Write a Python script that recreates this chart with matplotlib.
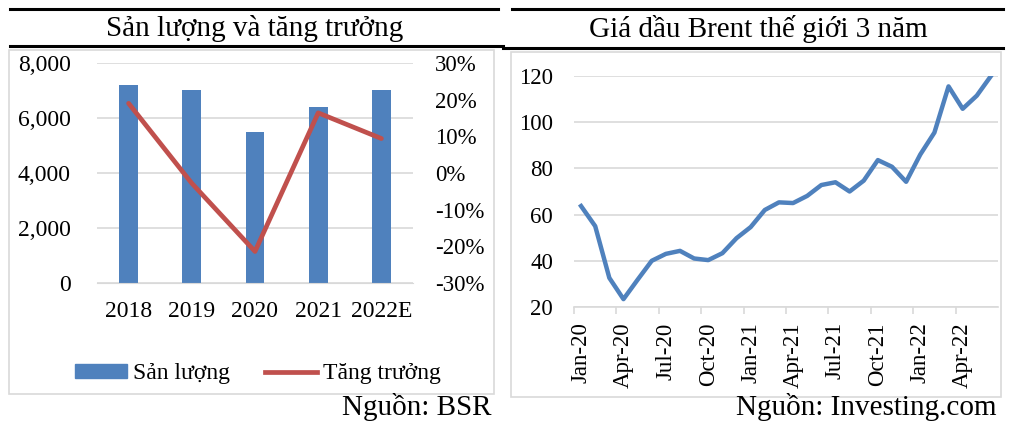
import matplotlib
matplotlib.use("Agg")
from matplotlib import pyplot as plt
from matplotlib.ticker import FuncFormatter, FixedLocator
from matplotlib.lines import Line2D
from matplotlib.patches import Patch, Rectangle

plt.rcParams['font.family'] = ['Liberation Serif', 'DejaVu Serif']

# ---- data ----
years = ["2018", "2019", "2020", "2021", "2022E"]
san_luong = [7200, 7000, 5500, 6400, 7000]
tang_truong = [19.0, -2.8, -21.4, 16.4, 9.4]

months = ["Jan-20", "Feb-20", "Mar-20", "Apr-20", "May-20", "Jun-20",
          "Jul-20", "Aug-20", "Sep-20", "Oct-20", "Nov-20", "Dec-20",
          "Jan-21", "Feb-21", "Mar-21", "Apr-21", "May-21", "Jun-21",
          "Jul-21", "Aug-21", "Sep-21", "Oct-21", "Nov-21", "Dec-21",
          "Jan-22", "Feb-22", "Mar-22", "Apr-22", "May-22", "Jun-22"]
brent = [63.7, 55.0, 32.6, 23.4, 31.8, 40.0, 43.0, 44.3, 41.0, 40.3,
         43.3, 49.8, 54.6, 62.0, 65.3, 65.0, 68.1, 72.8, 74.0, 70.0,
         74.7, 83.6, 80.7, 74.2, 86.0, 95.5, 115.5, 105.8, 111.5, 120.0]

W, H = 1018, 422
fig = plt.figure(figsize=(W / 100, H / 100), dpi=100)
grid_c = "#d9d9d9"
blue = "#4f81bd"
red = "#c0504d"


def px_axes(x0, y0, x1, y1, **kw):
    # pixel box (top-left origin) -> figure axes
    return fig.add_axes([x0 / W, 1 - y1 / H, (x1 - x0) / W, (y1 - y0) / H], **kw)


# background layer for frames, titles and sources
bg = px_axes(0, 0, W, H)
bg.set_xlim(0, W)
bg.set_ylim(H, 0)
bg.axis("off")
bg.plot([10, 498], [9, 9], color="black", lw=2.2)
bg.plot([512, 1003], [9, 9], color="black", lw=2.2)
bg.plot([10, 503], [46, 46], color="black", lw=2.2)
bg.plot([503, 1003], [48, 48], color="black", lw=2.2)
bg.add_patch(Rectangle((9, 49.5), 485, 344, fill=False, ec=grid_c, lw=1.2))
bg.add_patch(Rectangle((511, 51.5), 490, 345, fill=False, ec=grid_c, lw=1.2))
bg.text(255, 28, "Sản lượng và tăng trưởng", ha="center", va="center", fontsize=21)
bg.text(758, 29, "Giá dầu Brent thế giới 3 năm", ha="center", va="center", fontsize=21)
bg.text(492, 415, "Nguồn: BSR", ha="right", va="baseline", fontsize=21)
bg.text(997, 415, "Nguồn: Investing.com", ha="right", va="baseline", fontsize=21)

# ---- left chart ----
ax = px_axes(97, 63, 413, 283)
x = list(range(len(years)))
ax.bar(x, san_luong, width=0.3, color=blue, zorder=2)
ax.set_ylim(0, 8000)
ax.set_xlim(-0.5, len(years) - 0.5)
ax.set_yticks([0, 2000, 4000, 6000, 8000])
ax.yaxis.set_major_formatter(FuncFormatter(lambda v, p: f"{v:,.0f}"))
ax.set_xticks(x)
ax.set_xticklabels(years)
ax.grid(axis="y", color=grid_c, lw=1.2, zorder=0)
for s in ["top", "right", "left"]:
    ax.spines[s].set_visible(False)
ax.spines["bottom"].set_color(grid_c)
ax.tick_params(length=0, labelsize=17)
ax.tick_params(axis="y", pad=19)
ax.tick_params(axis="x", pad=13)

ax2 = ax.twinx()
ax2.plot(x, tang_truong, color=red, lw=3.4, solid_capstyle="round")
ax2.set_ylim(-30, 30)
ax2.set_yticks(range(-30, 31, 10))
ax2.yaxis.set_major_formatter(FuncFormatter(lambda v, p: f"{v:.0f}%"))
for s in ax2.spines.values():
    s.set_visible(False)
ax2.tick_params(length=0, labelsize=16.5, pad=16)

handles = [Patch(color=blue), Line2D([], [], color=red, lw=3.4)]
fig.legend(handles, ["Sản lượng", "Tăng trưởng"], loc="center",
           bbox_to_anchor=(258 / W, 1 - 374 / H), ncol=2, frameon=False,
           fontsize=17, handlelength=2.2, handleheight=0.5, columnspacing=1.5,
           handletextpad=0.25, borderpad=0)

# ---- right chart ----
bx = px_axes(574, 76, 998, 307)
mx = list(range(len(months)))
bx.plot(mx, brent, color=blue, lw=3.2, solid_joinstyle="round")
bx.set_ylim(20, 120)
bx.set_xlim(-0.5, len(months) - 0.5)
bx.set_yticks(range(20, 121, 20))
bx.grid(axis="y", color=grid_c, lw=1.2)
bx.set_xticks(mx[::3])
bx.set_xticklabels(months[::3], rotation=90)
bx.xaxis.set_minor_locator(FixedLocator([i - 0.5 for i in mx[::3]]))
for s in ["top", "right", "left"]:
    bx.spines[s].set_visible(False)
bx.spines["bottom"].set_color(grid_c)
bx.spines["bottom"].set_linewidth(1.2)
bx.tick_params(axis="x", which="major", length=0, labelsize=16.5, pad=11)
bx.tick_params(axis="x", which="minor", length=5, color=grid_c, width=1.2)
bx.tick_params(axis="y", length=0, labelsize=16.5, pad=15)

fig.savefig("out.png", dpi=100)
